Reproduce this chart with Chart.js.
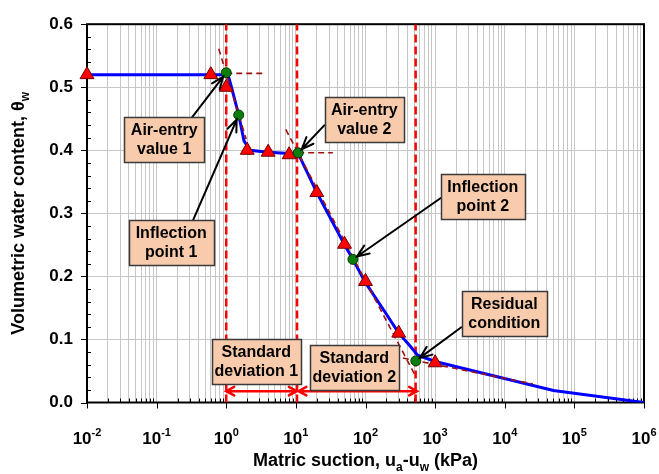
<!DOCTYPE html>
<html>
<head>
<meta charset="utf-8">
<script src="https://cdn.jsdelivr.net/npm/chart.js@4.4.0/dist/chart.umd.min.js"></script>
<style>
  html, body { margin: 0; padding: 0; background: #ffffff; }
  #wrap { width: 659px; height: 474px; position: relative; }
</style>
</head>
<body>
<div id="wrap"><canvas id="swcc"></canvas></div>
<script>
// ---- Soil-water characteristic curve data ----
// Measured points (triangles)
const suction      = [0.01, 0.6, 1.0, 2, 4, 8, 20, 50, 100, 300, 1000];
const waterContent = [0.52, 0.52, 0.50, 0.40, 0.397, 0.393, 0.333, 0.251, 0.192, 0.110, 0.063];

// Best-fit curve (blue line)
const fitSuction = [0.01, 1.06, 1.19, 1.51, 1.8, 2.2, 4, 8, 11, 20, 50, 66, 100, 200, 300, 450, 560, 1000, 50000, 1e6];
const fitContent = [0.52, 0.52, 0.50, 0.456, 0.415, 0.40, 0.397, 0.395, 0.393, 0.333, 0.25, 0.227, 0.19, 0.14, 0.11, 0.088, 0.075, 0.065, 0.019, 0];

// Characteristic points (green)
const keySuction = [1.0, 1.51, 10.8, 66, 528];
const keyContent = [0.523, 0.456, 0.396, 0.227, 0.066];

// Graphical construction lines (dark red dashed): [x1, x2], [y1, y2]
const tangentSuction = [[0.78, 1.93], [1.0, 3.3], [10.8, 34], [7.16, 528], [344, 25300]];
const tangentContent = [[0.561, 0.418], [0.522, 0.522], [0.396, 0.396], [0.433, 0.041], [0.0705, 0.0295]];

// Zone boundaries (red dashed verticals) and standard deviation spans
const boundarySuction = [1.0, 10.4, 525];
const sdSpans = [[1.0, 10.3], [10.9, 550]];
const sdLevel = 0.018;

// Axis ticks
const yTickValues = [0, 0.1, 0.2, 0.3, 0.4, 0.5, 0.6];
const xDecades = [-2, -1, 0, 1, 2, 3, 4, 5, 6];

// Callout boxes
const callouts = [
  { lines: ['Air-entry', 'value 1'],    at: [0.1285, 0.417], size: [80, 45], from: [28, -22.5], target: 0 },
  { lines: ['Inflection', 'point 1'],   at: [0.162, 0.254],  size: [85, 45], from: [22, -22.5], target: 1 },
  { lines: ['Air-entry', 'value 2'],    at: [96, 0.449],     size: [79, 45], from: [-40, 6],    target: 2 },
  { lines: ['Inflection', 'point 2'],   at: [4840, 0.326],   size: [84, 45], from: [-42, 1],    target: 3 },
  { lines: ['Residual', 'condition'],   at: [9860, 0.1415],  size: [85, 45], from: [-43, 14],   target: 4 },
  { lines: ['Standard', 'deviation 1'], at: [2.70, 0.0646],  size: [89, 45] },
  { lines: ['Standard', 'deviation 2'], at: [69, 0.0554],    size: [89, 45] }
];

const FONT = '"Liberation Sans", Arial, Helvetica, sans-serif';
const font = (size) => 'bold ' + size + 'px ' + FONT;

const xGridValues = [];
for (let d = -2; d < 6; d++) {
  for (let m = 1; m <= 9; m++) xGridValues.push(m * Math.pow(10, d));
}
xGridValues.push(1e6);

const pts = (xs, ys) => xs.map((x, i) => ({ x: x, y: ys[i] }));

const datasets = [];
datasets.push({
  label: 'Characteristic points', data: pts(keySuction, keyContent),
  showLine: false, pointStyle: 'circle', pointRadius: 5,
  backgroundColor: '#0b7d0b', borderColor: '#053a05', borderWidth: 1, order: 0, clip: false
});
datasets.push({
  label: 'Measured', data: pts(suction, waterContent),
  showLine: false, pointStyle: 'triangle', pointRadius: 8,
  backgroundColor: '#ff0000', borderColor: '#6e0000', borderWidth: 1, order: 1, clip: false
});
tangentSuction.forEach((xs, i) => {
  datasets.push({
    label: 'Construction ' + (i + 1), data: pts(xs, tangentContent[i]),
    showLine: true, pointRadius: 0, borderColor: '#9c1111', borderWidth: 1.6,
    borderDash: [6, 4], order: 2
  });
});
datasets.push({
  label: 'Best fit', data: pts(fitSuction, fitContent),
  showLine: true, pointRadius: 0, borderColor: '#0000ff', borderWidth: 3, order: 3, tension: 0
});
boundarySuction.forEach((x, i) => {
  datasets.push({
    label: 'Boundary ' + (i + 1), data: [{ x: x, y: 0 }, { x: x, y: 0.6 }],
    showLine: true, pointRadius: 0, borderColor: '#ff0000', borderWidth: 2.5,
    borderDash: [8, 4], order: 4
  });
});

function arrowHead(ctx, x1, y1, x2, y2, len, ang) {
  const a = Math.atan2(y2 - y1, x2 - x1);
  ctx.moveTo(x2 - len * Math.cos(a - ang), y2 - len * Math.sin(a - ang));
  ctx.lineTo(x2, y2);
  ctx.lineTo(x2 - len * Math.cos(a + ang), y2 - len * Math.sin(a + ang));
}

function drawRich(ctx, parts, cx, baseline, size) {
  let w = 0;
  parts.forEach(p => {
    ctx.font = font(p.sub || p.sup ? Math.round(size * 0.65) : size);
    w += ctx.measureText(p.t).width;
  });
  let x = cx - w / 2;
  ctx.textAlign = 'left';
  ctx.textBaseline = 'alphabetic';
  parts.forEach(p => {
    const s = p.sub || p.sup ? Math.round(size * 0.65) : size;
    ctx.font = font(s);
    const dy = p.sub ? size * 0.28 : (p.sup ? -size * 0.42 : 0);
    ctx.fillText(p.t, x, baseline + dy);
    x += ctx.measureText(p.t).width;
  });
}

const decorations = {
  id: 'decorations',
  beforeDatasetsDraw(chart) {
    const ctx = chart.ctx, a = chart.chartArea;
    const xs = chart.scales.x, ys = chart.scales.y;
    ctx.save();
    ctx.strokeStyle = '#000';
    ctx.lineWidth = 1;
    ctx.beginPath();
    // x ticks: decades outward, minor inward
    xGridValues.forEach(v => {
      const px = Math.round(xs.getPixelForValue(v)) + 0.5;
      const lg = Math.log10(v);
      if (Math.abs(lg - Math.round(lg)) < 1e-9) {
        ctx.moveTo(px, a.bottom); ctx.lineTo(px, a.bottom + 6);
      } else {
        ctx.moveTo(px, a.bottom); ctx.lineTo(px, a.bottom - 4);
      }
    });
    // y ticks: major outward, minor (0.02) inward
    for (let k = 0; k <= 30; k++) {
      const v = k * 0.02;
      const py = Math.round(ys.getPixelForValue(v)) + 0.5;
      if (k % 5 === 0) { ctx.moveTo(a.left - 6, py); ctx.lineTo(a.left, py); }
      else { ctx.moveTo(a.left, py); ctx.lineTo(a.left + 4, py); }
    }
    ctx.stroke();
    // plot frame
    ctx.lineWidth = 2;
    ctx.strokeRect(a.left, a.top, a.right - a.left, a.bottom - a.top);
    ctx.restore();
  },
  afterDatasetsDraw(chart) {
    const ctx = chart.ctx;
    const xs = chart.scales.x, ys = chart.scales.y;
    ctx.save();
    // standard deviation spans
    ctx.strokeStyle = '#ff0000';
    ctx.lineWidth = 2.5;
    ctx.lineCap = 'round';
    ctx.setLineDash([]);
    sdSpans.forEach(s => {
      const x1 = xs.getPixelForValue(s[0]), x2 = xs.getPixelForValue(s[1]);
      const y = ys.getPixelForValue(sdLevel);
      ctx.beginPath();
      ctx.moveTo(x1, y); ctx.lineTo(x2, y);
      arrowHead(ctx, x1, y, x2, y, 9, 0.5);
      arrowHead(ctx, x2, y, x1, y, 9, 0.5);
      ctx.stroke();
    });
    // callout arrows
    ctx.strokeStyle = '#000';
    ctx.lineWidth = 2;
    callouts.forEach(c => {
      if (c.target === undefined) return;
      const cx = xs.getPixelForValue(c.at[0]), cy = ys.getPixelForValue(c.at[1]);
      const sx = cx + c.from[0], sy = cy + c.from[1];
      const tx0 = xs.getPixelForValue(keySuction[c.target]);
      const ty0 = ys.getPixelForValue(keyContent[c.target]);
      const d = Math.hypot(tx0 - sx, ty0 - sy);
      const tx = tx0 - (tx0 - sx) / d * 5, ty = ty0 - (ty0 - sy) / d * 5;
      ctx.beginPath();
      ctx.moveTo(sx, sy); ctx.lineTo(tx, ty);
      arrowHead(ctx, sx, sy, tx, ty, 13, 0.38);
      ctx.stroke();
    });
    // callout boxes
    callouts.forEach(c => {
      const cx = xs.getPixelForValue(c.at[0]), cy = ys.getPixelForValue(c.at[1]);
      const w = c.size[0], h = c.size[1];
      const x0 = Math.round(cx - w / 2) + 0.5, y0 = Math.round(cy - h / 2) + 0.5;
      ctx.fillStyle = '#f8cbad';
      ctx.fillRect(x0, y0, w, h);
      ctx.strokeStyle = '#3a3a3a';
      ctx.lineWidth = 1.5;
      ctx.strokeRect(x0, y0, w, h);
      ctx.fillStyle = '#000';
      ctx.font = font(16);
      ctx.textAlign = 'center';
      ctx.textBaseline = 'middle';
      ctx.fillText(c.lines[0], cx, cy - 9);
      ctx.fillText(c.lines[1], cx, cy + 10);
    });
    ctx.restore();
  },
  afterDraw(chart) {
    const ctx = chart.ctx, a = chart.chartArea;
    const xs = chart.scales.x;
    ctx.save();
    ctx.fillStyle = '#000';
    // x tick labels 10^n
    xDecades.forEach(n => {
      const px = xs.getPixelForValue(Math.pow(10, n));
      drawRich(ctx, [{ t: '10' }, { t: String(n), sup: true }], px, a.bottom + 41, 17);
    });
    // axis titles
    drawRich(ctx, [{ t: 'Matric suction, u' }, { t: 'a', sub: true }, { t: '-u' }, { t: 'w', sub: true }, { t: ' (kPa)' }],
      (a.left + a.right) / 2, a.bottom + 63, 18);
    ctx.translate(24, (a.top + a.bottom) / 2);
    ctx.rotate(-Math.PI / 2);
    drawRich(ctx, [{ t: 'Volumetric water content, \u03b8' }, { t: 'w', sub: true }], 0, 0, 18);
    ctx.restore();
  }
};

new Chart(document.getElementById('swcc'), {
  type: 'scatter',
  data: { datasets: datasets },
  options: {
    responsive: true,
    maintainAspectRatio: false,
    animation: false,
    events: [],
    layout: { padding: { top: 12, right: 15, bottom: 0, left: 0 } },
    plugins: { legend: { display: false }, tooltip: { enabled: false } },
    scales: {
      x: {
        type: 'logarithmic',
        min: 0.01,
        max: 1e6,
        afterBuildTicks: (scale) => { scale.ticks = xGridValues.map(v => ({ value: v })); },
        afterFit: (scale) => { scale.height = 71.5; },
        ticks: { display: false },
        grid: { color: '#c6c6c6', lineWidth: 1, drawTicks: false },
        border: { display: false }
      },
      y: {
        type: 'linear',
        min: 0,
        max: 0.6,
        afterBuildTicks: (scale) => { scale.ticks = yTickValues.map(v => ({ value: v })); },
        afterFit: (scale) => { scale.width = 87; },
        ticks: {
          callback: (v) => Number(v).toFixed(1),
          color: '#000',
          font: { family: FONT, size: 17, weight: 'bold' },
          padding: 14
        },
        grid: { color: '#c6c6c6', lineWidth: 1, drawTicks: false },
        border: { display: false }
      }
    }
  },
  plugins: [decorations]
});
</script>
</body>
</html>
